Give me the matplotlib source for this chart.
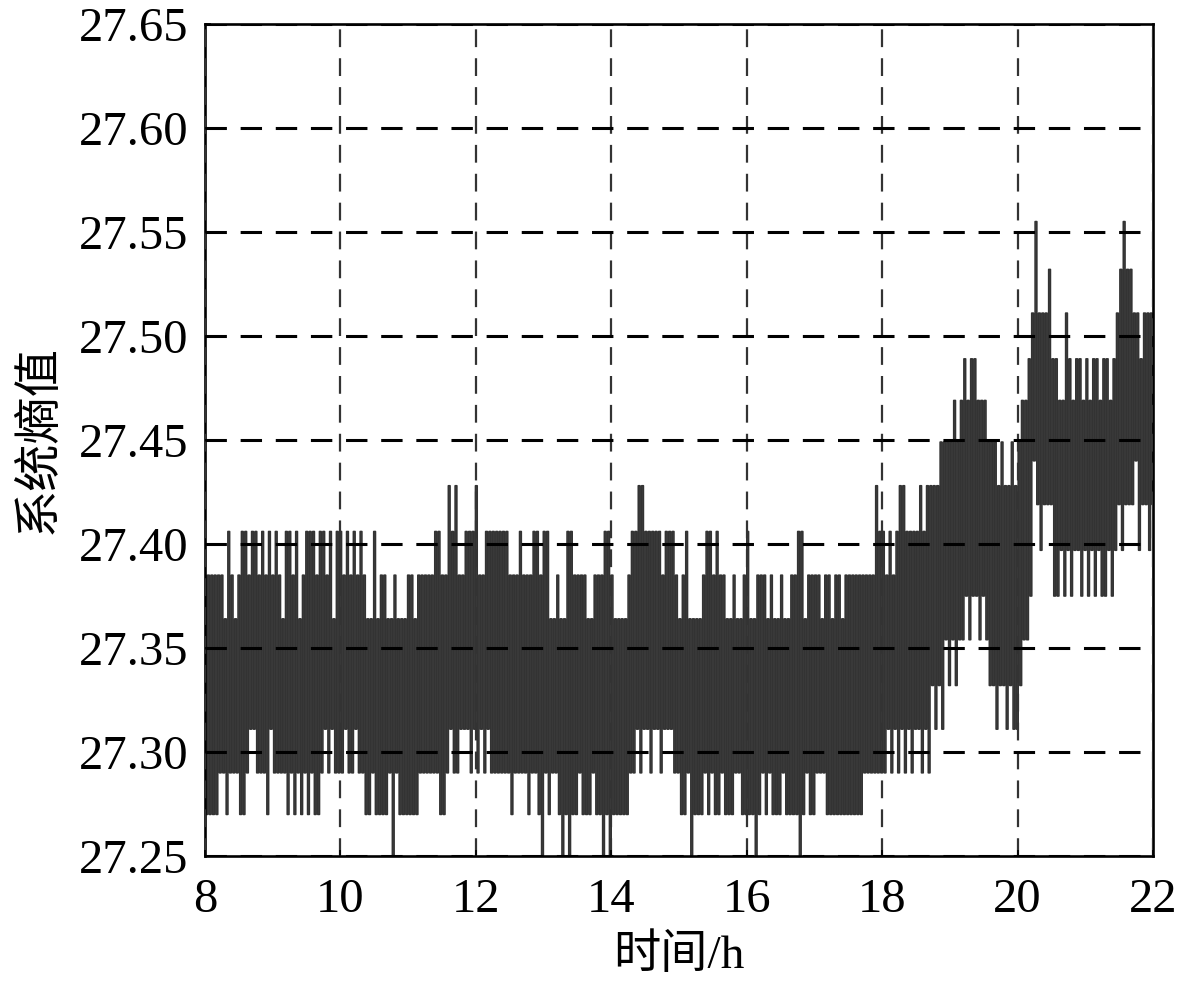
import matplotlib
matplotlib.use("Agg")
import matplotlib.pyplot as plt
import numpy as np

plt.rcParams["font.family"] = ["Liberation Serif", "Noto Sans CJK SC"]

# quantised entropy levels seen in the picture, one code character each
LEVEL_CODES = "0123456789abcdefghij"
LEVEL_VALUES = [27.249, 27.270, 27.290, 27.311, 27.332, 27.354, 27.364,
                27.385, 27.406, 27.428, 27.449, 27.469, 27.489, 27.511,
                27.532, 27.555, 27.375, 27.397, 27.419, 27.440]

# upper / lower envelope of each 0.05 h slot, read hour by hour (8h ... 21h)
HIGH_BY_HOUR = [
    "77777768767887887878",
    "78768878678887887868",
    "87878787668677667666",
    "77677777887798977888",
    "97788888887778777887",
    "88667668877776677788",
    "76666788998888878887",
    "67866667887877667667",
    "86677767667667788677",
    "77677677677777777798",
    "87878998888989999aaa",
    "ababcbccbbbaaa9a99a9",
    "abbcdfdddeccbbdcbccb",
    "cbccbccbcdefeeddcddd",
]
LOW_BY_HOUR = [
    "11112212221123322213",
    "22221212121211232322",
    "23223221121111202111",
    "11122222211232233323",
    "23232222221222212210",
    "21221010112111211010",
    "11111223233233233322",
    "11201112121121112211",
    "11012121112111101211",
    "22211111111111222222",
    "23232323233232434354",
    "5455g5gg5g5443443433",
    "455gjihiiigghghghhgh",
    "ghghgghghihiiijhiihi",
]

X_TICKS = [8, 10, 12, 14, 16, 18, 20, 22]
Y_TICKS = [27.25, 27.30, 27.35, 27.40, 27.45, 27.50, 27.55, 27.60, 27.65]

high = "".join(HIGH_BY_HOUR)
low = "".join(LOW_BY_HOUR)
assert len(high) == len(low)
codes = "".join(h + l for h, l in zip(high, low))
entropy = np.array([LEVEL_VALUES[LEVEL_CODES.index(c)] for c in codes])
hours = np.linspace(8, 22, len(entropy))

fig = plt.figure(figsize=(11.81, 9.85), dpi=100)
ax = fig.add_axes([205 / 1181, 1 - 856 / 985, 948 / 1181, 832 / 985])

ax.plot(hours, entropy, color="#333333", linewidth=1.2, drawstyle="steps-mid")

ax.set_xlim(8, 22)
ax.set_ylim(27.25, 27.65)
ax.set_xticks(X_TICKS)
ax.set_yticks(Y_TICKS)
ax.set_yticklabels([f"{v:.2f}" for v in Y_TICKS])

ax.set_axisbelow(False)
ax.xaxis.grid(True, color="#333333", linestyle=(0, (8, 5)), linewidth=1.6)
ax.yaxis.grid(True, color="black", linestyle=(0, (7, 4.5)), linewidth=2.2)

for s in ax.spines.values():
    s.set_linewidth(1.9)
    s.set_color("black")

ax.tick_params(direction="in", length=4, width=1.2, labelsize=35, pad=12,
               top=False, right=False)
ax.tick_params(axis="x", pad=16)

ax.set_xlabel("时间/h", fontsize=34, labelpad=9)
ax.set_ylabel("系统熵值", fontsize=34, labelpad=12)

fig.savefig("out.png", dpi=100)
